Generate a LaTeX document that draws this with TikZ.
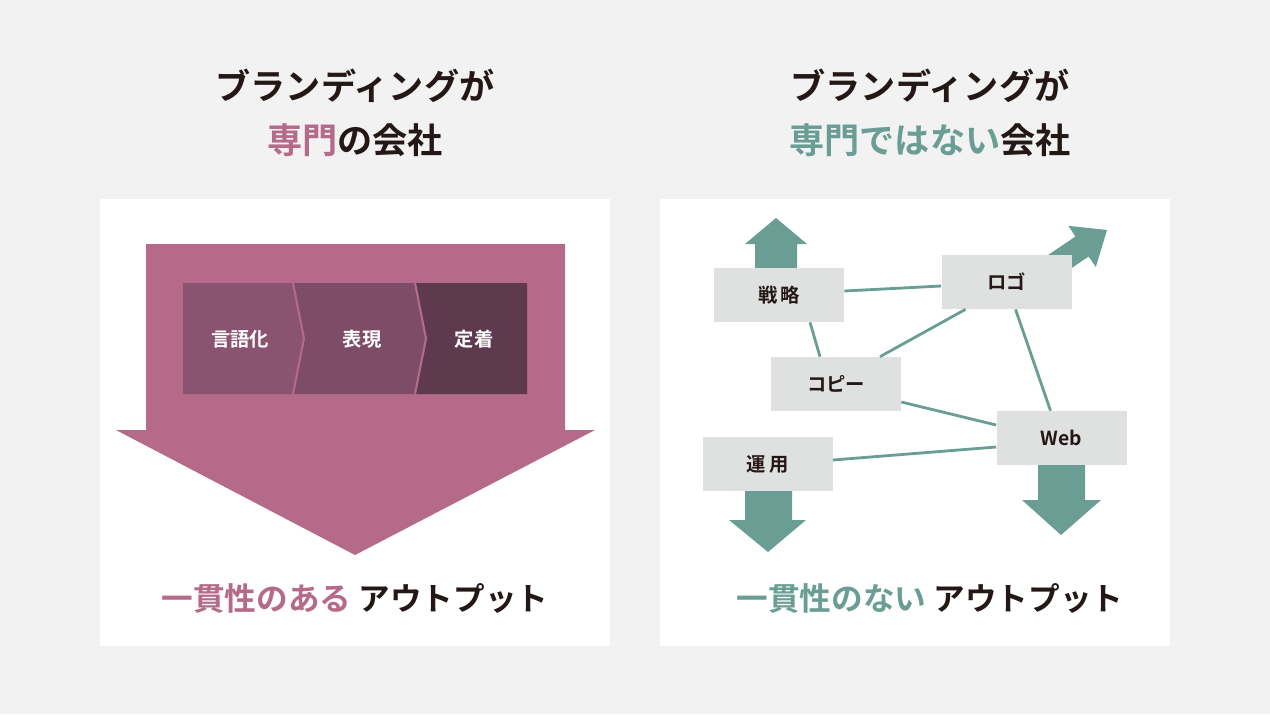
\documentclass[tikz,border=0pt]{standalone}
\usepackage{fontspec}
\setmainfont{Noto Sans CJK JP}
\newfontfamily\jpbold{Noto Sans CJK JP Bold}
\usetikzlibrary{positioning,calc}
\definecolor{bgray}{HTML}{F2F2F2}
\definecolor{rose}{HTML}{B56A8A}
\definecolor{roseA}{HTML}{8A5470}
\definecolor{roseB}{HTML}{7D4C66}
\definecolor{roseC}{HTML}{5E3A4E}
\definecolor{teal}{HTML}{6A9E94}
\definecolor{boxgray}{HTML}{DFE1E1}
\definecolor{ink}{HTML}{231815}
\tikzset{
  title/.style={font=\jpbold\fontsize{20}{24}\selectfont, text=ink},
  output/.style={font=\jpbold\fontsize{18}{22}\selectfont, text=ink},
  stage/.style={font=\jpbold\fontsize{11}{13}\selectfont, text=white},
  item/.style={fill=boxgray, minimum width=2.6cm, minimum height=1.08cm,
    font=\jpbold\fontsize{11}{13}\selectfont, text=ink},
  link/.style={draw=teal, line width=1.6pt}
}
\begin{document}
\begin{tikzpicture}[x=0.02cm, y=-0.02cm]
  \useasboundingbox (0,0) rectangle (1270,714);
  \fill[bgray] (0,0) rectangle (1270,714);
  \fill[white] (100,199) rectangle (610,646);
  \fill[white] (660,199) rectangle (1170,646);
  % titles
  \node[title] (t1) at (355,86) {ブランディングが};
  \node[title] (t2) at (355,140) {\textcolor{rose}{専門}の会社};
  \node[title] (t3) at (930,86) {ブランディングが};
  \node[title] (t4) at (930,140) {\textcolor{teal}{専門ではない}会社};
  % big arrow
  \fill[rose] (146,244) -- (565,244) -- (565,430) -- (595,430) -- (355,555)
    -- (116,430) -- (146,430) -- cycle;
  \fill[roseA] (183,283) -- (293,283) -- (304,338.5) -- (293,394) -- (183,394) -- cycle;
  \fill[roseB] (293,283) -- (415,283) -- (426,338.5) -- (415,394) -- (293,394) -- (304,338.5) -- cycle;
  \fill[roseC] (415,283) -- (527,283) -- (527,394) -- (415,394) -- (426,338.5) -- cycle;
  \draw[rose, line width=1.2pt] (293,283) -- (304,338.5) -- (293,394);
  \draw[rose, line width=1.2pt] (415,283) -- (426,338.5) -- (415,394);
  \node[stage] (s1) at (240,339) {言語化};
  \node[stage] (s2) at (362,339) {表現};
  \node[stage] (s3) at (474,339) {定着};
  \node[output] (o1) at (355,598) {\textcolor{rose}{一貫性のある} アウトプット};
  % teal arrows
  \fill[teal] (755,268) -- (755,244) -- (745,244) -- (776,218) -- (807,244)
    -- (797,244) -- (797,268) -- cycle;
  \fill[teal] (1033.4,265) -- (1075.4,236.5) -- (1068.3,225.8) -- (1107,230)
    -- (1095.8,267) -- (1088.6,256.5) -- (1046.6,285) -- cycle;
  \fill[teal] (1038,465) -- (1038,500) -- (1022,500) -- (1061,535) -- (1101,500)
    -- (1085,500) -- (1085,465) -- cycle;
  \fill[teal] (745,491) -- (745,520) -- (729,520) -- (768,552) -- (806,520)
    -- (792,520) -- (792,491) -- cycle;
  % items
  \node[item] (senryaku) at (779,295) {戦\,略};
  \node[item] (logo) at (1006.5,282) {ロゴ};
  \node[item] (copy) at (836,384) {コピー};
  \node[item] (web) at (1061.5,438) {Web};
  \node[item] (unyo) at (767.5,464) {運\,用};
  % links
  \draw[link] ($(senryaku.east)+(0,-4)$) -- ($(logo.west)+(0,4)$);
  \draw[link] ($(senryaku.south)+(31,0)$) -- ($(copy.north)+(-16,0)$);
  \draw[link] ($(copy.north)+(44,0)$) -- ($(logo.south)+(-41,0)$);
  \draw[link] ($(copy.east)+(0,18)$) -- ($(web.west)+(0,-13)$);
  \draw[link] ($(logo.south)+(9,0)$) -- ($(web.north)+(-11,0)$);
  \draw[link] ($(unyo.east)+(0,-4)$) -- ($(web.west)+(0,9)$);
  \node[output] (o2) at (930,598) {\textcolor{teal}{一貫性のない} アウトプット};
\end{tikzpicture}
\end{document}
